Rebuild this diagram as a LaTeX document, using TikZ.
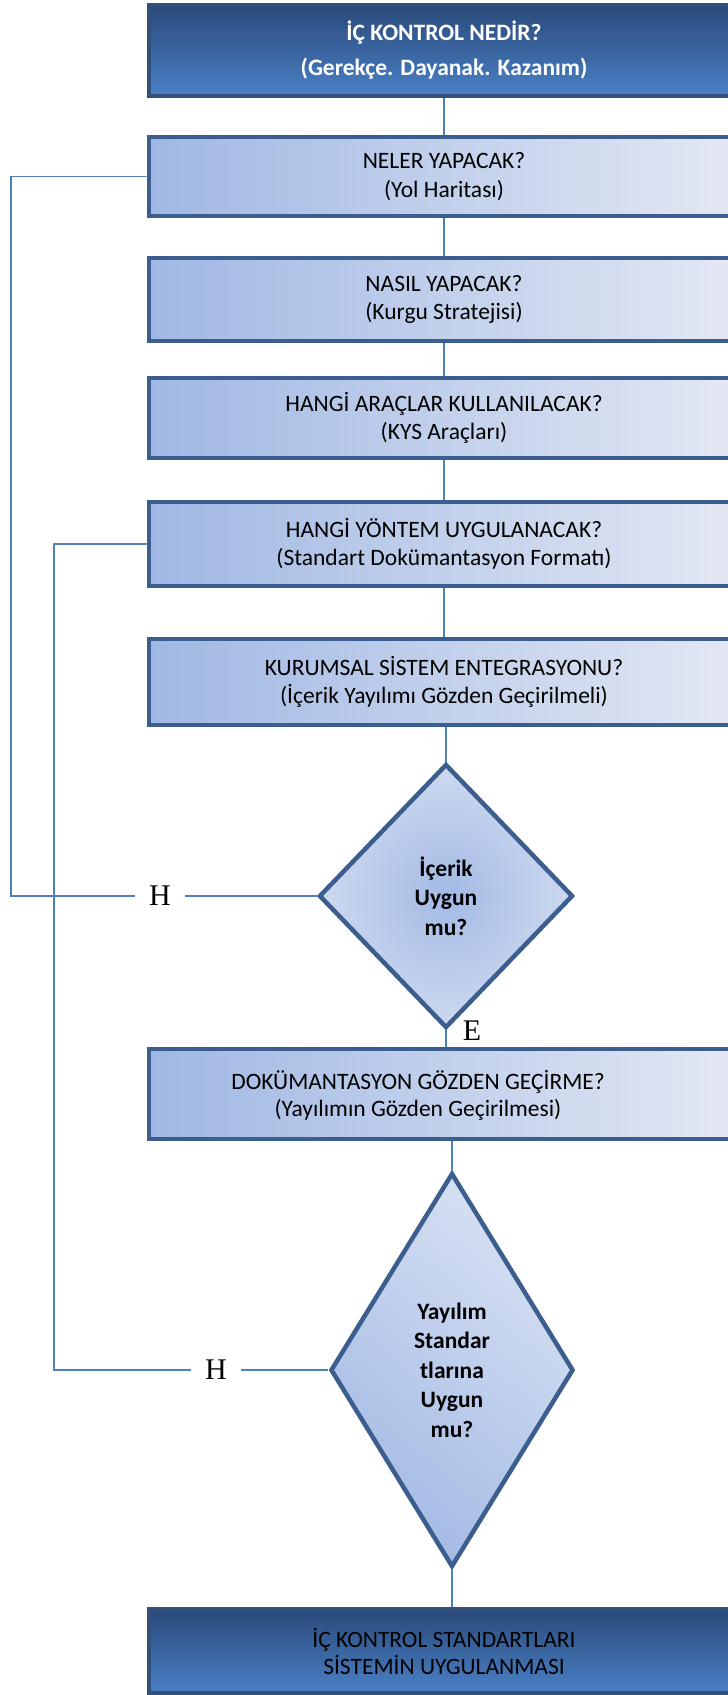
\documentclass[tikz,border=0pt]{standalone}
\usepackage{fontspec}
\setmainfont{Carlito}
\newfontfamily\serifH{Liberation Serif}
\usetikzlibrary{shapes.geometric}

\definecolor{edgeblue}{HTML}{3B5E8F}
\definecolor{linkblue}{HTML}{4F81BD}
\definecolor{darktop}{HTML}{2A4A7A}
\definecolor{darkbot}{HTML}{4A80C6}
\definecolor{paleL}{HTML}{A0B8E4}
\definecolor{paleR}{HTML}{E3E8F3}
\definecolor{diaIn}{HTML}{A3BAE5}
\definecolor{diaOut}{HTML}{CDD9EF}

\tikzset{
  darkbox/.style={rectangle, draw=edgeblue!85!black, line width=4pt, top color=darktop, bottom color=darkbot, minimum width=590pt, align=center},
  palebox/.style={rectangle, draw=edgeblue, line width=4.5pt, left color=paleL, right color=paleR, minimum width=590pt, align=center, font=\fontsize{23.5}{28.5}\selectfont},
  decision/.style={diamond, draw=edgeblue, line width=4.5pt, inner sep=0pt, align=center, font=\fontsize{23.5}{29.5}\selectfont\bfseries},
  conn/.style={linkblue, line width=1.6pt},
  yesno/.style={font=\serifH\fontsize{30}{30}\selectfont, inner ysep=0pt, inner xsep=14pt}
}

\begin{document}
\begin{tikzpicture}[x=1pt, y=-1pt]
\useasboundingbox (0,0) rectangle (728,1695);
\clip (0,0) rectangle (728,1695);
\fill[white] (0,0) rectangle (728,1695);

% main column
\node[darkbox, minimum height=91pt, text=white, font=\fontsize{23.5}{35}\selectfont\bfseries] (b1) at (444,50.5) {İÇ KONTROL NEDİR?\\(Gerekçe. Dayanak. Kazanım)};
\node[palebox, minimum height=79pt] (b2) at (444,176.5) {NELER YAPACAK?\\(Yol Haritası)};
\node[palebox, minimum height=83pt] (b3) at (444,299.5) {NASIL YAPACAK?\\(Kurgu Stratejisi)};
\node[palebox, minimum height=80pt] (b4) at (444,418) {HANGİ ARAÇLAR KULLANILACAK?\\(KYS Araçları)};
\node[palebox, minimum height=84pt] (b5) at (444,544) {HANGİ YÖNTEM UYGULANACAK?\\(Standart Dokümantasyon Formatı)};
\node[palebox, minimum height=86pt] (b6) at (444,682) {KURUMSAL SİSTEM ENTEGRASYONU?\\(İçerik Yayılımı Gözden Geçirilmeli)};
\node[decision, inner color=diaIn, outer color=diaOut, minimum width=254pt, minimum height=264pt] (d1) at (446,896) {İçerik\\Uygun\\mu?};
\node[palebox, minimum height=90pt] (b7) at (444,1094) {};
\node[align=center, font=\fontsize{23.5}{27}\selectfont] (t7) at (418,1095) {DOKÜMANTASYON GÖZDEN GEÇİRME?\\(Yayılımın Gözden Geçirilmesi)};
\node[decision, top color=diaOut!80!white, bottom color=diaIn, shading angle=-40, minimum width=243pt, minimum height=394pt] (d2) at (452,1370) {Yayılım\\Standar\\tlarına\\Uygun\\mu?};
\node[darkbox, minimum height=84pt, font=\fontsize{23.5}{27}\selectfont] (b8) at (444,1651) {İÇ KONTROL STANDARTLARI\\SİSTEMİN UYGULANMASI};

% answers
\node[yesno] (h1) at (160,896) {H};
\node[yesno] (h2) at (216,1370) {H};
\node[yesno, inner xsep=0pt] (e1) at (472,1031) {E};
\coordinate (c1) at (11,896);
\coordinate (c2) at (54,1370);

% connectors
\draw[conn] (b1.south) -- (b2.north);
\draw[conn] (b2.south) -- (b3.north);
\draw[conn] (b3.south) -- (b4.north);
\draw[conn] (b4.south) -- (b5.north);
\draw[conn] (b5.south) -- (b6.north);
\draw[conn] (d1.north |- b6.south) -- (d1.north);
\draw[conn] (d1.south) -- (d1.south |- b7.north);
\draw[conn] (d2.north |- b7.south) -- (d2.north);
\draw[conn] (d2.south) -- (d2.south |- b8.north);

% loops back
\draw[conn] (d1.west) -- (h1.east);
\draw[conn] (h1.west) -- (c1) |- (b2.west);
\draw[conn] (d2.west) -- (h2.east);
\draw[conn] (h2.west) -- (c2) |- (b5.west);
\end{tikzpicture}
\end{document}
